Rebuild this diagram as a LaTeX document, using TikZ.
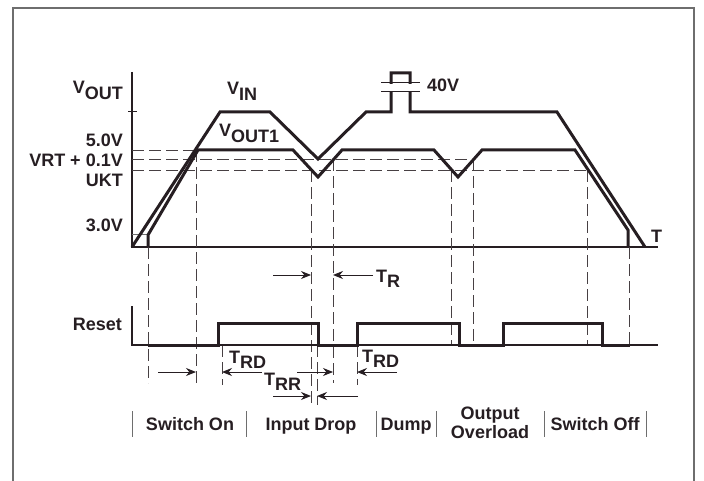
\documentclass[tikz,border=0pt]{standalone}
\usepackage{fontspec}
\setmainfont{Liberation Sans}
\usetikzlibrary{arrows.meta}
\definecolor{ink}{RGB}{38,30,34}
\definecolor{framegray}{RGB}{110,110,110}
\newcommand{\vsub}[2]{#1\raisebox{-5.5pt}{#2}}

\begin{document}
\begin{tikzpicture}[x=1pt, y=-1pt,
  lbl/.style={inner sep=0pt, text=ink, font=\bfseries\fontsize{18}{19}\selectfont},
  wave/.style={ink, line width=3pt, line join=miter},
  guide/.style={ink!85, line width=0.9pt, dash pattern=on 12pt off 5pt},
  meas/.style={ink, line width=1pt, -{Stealth[length=10pt, width=8pt]}},
  sep/.style={framegray, line width=1pt}]
  \useasboundingbox (0,0) rectangle (704,481);
  \draw[framegray, line width=1.5pt] (13,481) -- (13,8) -- (694,8) -- (694,481);

  % voltage axes
  \draw[ink, line width=2pt] (132,72) -- (132,247) -- (658,247);
  \draw[ink, line width=1pt] (128,112) -- (137,112);
  \draw[framegray, line width=1pt] (132,235) -- (148,235);

  % threshold and timing guides
  \draw[guide] (132,150) -- (198,150);
  \draw[guide] (132,159) -- (474,159);
  \draw[guide] (132,170) -- (588,170);
  \foreach \x/\a/\b in {148/247/383, 196/150/383, 311/170/405, 333/159/383,
      451/170/345, 473/159/345, 587/170/345, 629/247/345,
      222/345/385, 357/345/385, 317/345/405}
    \draw[guide] (\x,\a) -- (\x,\b);

  % input and output
  \draw[wave] (132,247) -- (220,112) -- (270,112) -- (318,159) -- (366,112)
    -- (391,112) -- (391,73) -- (410,73) -- (410,112) -- (557,112) -- (645,247);
  \draw[wave] (148,247) -- (148,235) -- (198,150) -- (293,150) -- (318,177)
    -- (342,150) -- (434,150) -- (458,177) -- (482,150) -- (575,150)
    -- (628,230) -- (628,247);
  % break in the 40V pulse
  \fill[white] (386,84) rectangle (415,91);
  \draw[ink, line width=1pt] (381,83) -- (420,83);
  \draw[ink, line width=1pt] (381,92) -- (420,92);

  % reset output
  \draw[ink, line width=2pt] (132,306) -- (132,345) -- (658,345);
  \draw[wave] (148,345) -- (218,345) -- (218,323) -- (318,323) -- (318,345)
    -- (357,345) -- (357,323) -- (459,323) -- (459,345) -- (503,345)
    -- (503,323) -- (602,323) -- (602,345) -- (630,345);

  % delay marks
  \draw[meas] (273,275) -- (311,275);
  \draw[meas] (373,275) -- (333,275);
  \draw[meas] (158,372) -- (196,372);
  \draw[meas] (262,372) -- (222,372);
  \draw[meas] (297,372) -- (333,372);
  \draw[meas] (397,372) -- (357,372);
  \draw[meas] (273,396) -- (311,396);
  \draw[meas] (358,396) -- (317,396);

  \node[lbl, anchor=base east] (vout) at (123,94) {\vsub{V}{OUT}};
  \node[lbl, anchor=base west] (vin) at (227,95) {\vsub{V}{IN}};
  \node[lbl, anchor=base west] (vout1) at (219,137) {\vsub{V}{OUT1}};
  \node[lbl, anchor=base east] (l50) at (123,147) {5.0V};
  \node[lbl, anchor=base east] (lvrt) at (123,167) {VRT + 0.1V};
  \node[lbl, anchor=base east] (lukt) at (123,187) {UKT};
  \node[lbl, anchor=base east] (l30) at (123,232) {3.0V};
  \node[lbl, anchor=base west] (taxis) at (651,242) {T};
  \node[lbl, anchor=base west] (l40) at (427,92) {40V};
  \node[lbl, anchor=base east] (reset) at (122,330) {Reset};
  \node[lbl, anchor=base west] (tr) at (376,282) {\vsub{T}{R}};
  \node[lbl, anchor=base west] (trd1) at (229,363) {\vsub{T}{RD}};
  \node[lbl, anchor=base west] (trd2) at (362,362) {\vsub{T}{RD}};
  \node[lbl, anchor=base west] (trr) at (264,385) {\vsub{T}{RR}};

  % operating phases
  \foreach \x in {132,246,376,436,544,646}
    \draw[sep] (\x,411) -- (\x,437);
  \node[lbl, anchor=base] (son) at (190,430) {Switch On};
  \node[lbl, anchor=base] (idrop) at (311,430) {Input Drop};
  \node[lbl, anchor=base] (dump) at (406,430) {Dump};
  \node[lbl, align=center] (ovl) at (490,423) {Output\\Overload};
  \node[lbl, anchor=base] (soff) at (595,430) {Switch Off};
\end{tikzpicture}
\end{document}
